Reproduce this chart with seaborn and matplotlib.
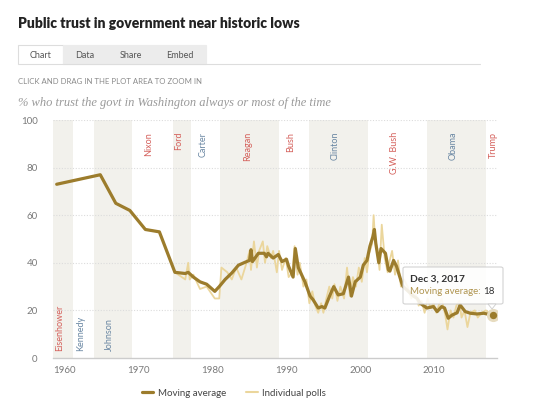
import matplotlib
matplotlib.use("Agg")
import matplotlib.pyplot as plt
import seaborn as sns
import pandas as pd
from matplotlib.patches import FancyBboxPatch, Rectangle, Polygon
from matplotlib.lines import Line2D

# ---------------- data ----------------
ma_year = [1958.9, 1964.8, 1966.9, 1968.8, 1970.9, 1972.8, 1974.9, 1976.3, 1976.7, 1977.4,
           1978.3, 1979.2, 1980.3, 1980.9, 1981.7, 1982.6, 1983.5, 1984.6, 1985.0, 1985.2,
           1985.4, 1986.2, 1987.0, 1987.3, 1987.5, 1988.2, 1988.9, 1989.4, 1990.0, 1990.3,
           1990.9, 1991.2, 1991.6, 1992.5, 1993.2, 1993.6, 1994.3, 1994.8, 1995.2, 1995.9,
           1996.4, 1997.0, 1997.7, 1998.4, 1998.8, 1999.3, 2000.0, 2000.4, 2000.9, 2001.3,
           2001.7, 2001.9, 2002.1, 2002.5, 2002.8, 2003.4, 2003.8, 2004.0, 2004.5, 2004.9,
           2005.6, 2005.8, 2006.5, 2007.2, 2007.7, 2008.1, 2009.0, 2009.9, 2010.4, 2011.0,
           2011.4, 2011.9, 2012.4, 2013.1, 2013.5, 2014.2, 2014.9, 2015.8, 2016.7, 2017.9]
ma_value = [73, 77, 65, 62, 54, 53, 36, 35.5, 36, 34,
            32, 31, 28, 30, 33, 35.7, 39, 40.5, 41, 45.5,
            40.5, 44, 44, 42.5, 44, 42, 43.5, 40.5, 41.5, 38.5,
            34, 46, 38, 32, 26, 24.5, 21, 21.6, 21, 26.5,
            30, 26.5, 27, 34, 26, 32, 34, 39, 41, 47,
            51, 54, 48, 40, 46, 44, 37, 36.5, 41, 38.5,
            31.5, 30, 28, 26, 25, 23, 21, 21.6, 19.5, 21.6,
            21, 16.7, 18, 19, 22.3, 19.5, 18.8, 18.5, 18.8, 18]

poll_year = [1958.9, 1964.8, 1966.9, 1968.8, 1970.9, 1972.8, 1974.9, 1976.3, 1976.7, 1976.9,
             1977.4, 1978.3, 1979.2, 1980.3, 1980.9, 1981.2, 1982.0, 1982.6, 1983.2, 1983.9,
             1984.6, 1985.0, 1985.2, 1985.6, 1986.0, 1986.3, 1986.8, 1987.1, 1987.4, 1987.9,
             1988.2, 1988.7, 1989.0, 1989.4, 1989.9, 1990.3, 1990.8, 1991.1, 1991.5, 1991.8,
             1992.3, 1992.7, 1993.1, 1993.5, 1993.9, 1994.3, 1994.7, 1995.0, 1995.4, 1995.8,
             1996.2, 1996.5, 1996.9, 1997.3, 1997.8, 1998.2, 1998.6, 1999.0, 1999.4, 1999.8,
             2000.2, 2000.6, 2000.9, 2001.2, 2001.6, 2001.8, 2002.0, 2002.3, 2002.6, 2002.9,
             2003.3, 2003.7, 2003.9, 2004.3, 2004.7, 2005.1, 2005.5, 2005.9, 2006.4, 2006.9,
             2007.4, 2007.9, 2008.3, 2008.7, 2009.1, 2009.5, 2009.9, 2010.3, 2010.6, 2011.0,
             2011.5, 2011.8, 2012.2, 2012.6, 2013.0, 2013.4, 2013.7, 2014.1, 2014.5, 2014.9,
             2015.5, 2015.9, 2016.4, 2017.0, 2017.9]
poll_value = [73, 77, 65, 62, 54, 53, 36, 33, 40, 33,
              35, 29, 30, 25, 25, 38, 36, 33, 38, 33,
              40, 45, 37, 49, 38, 45, 49, 40, 47, 42,
              45, 36, 45, 37, 42, 34, 36, 47, 35, 40,
              30, 33, 23, 28, 22, 19, 23, 19, 25, 30,
              25, 31, 24, 30, 25, 38, 26, 34, 30, 38,
              32, 42, 36, 44, 48, 60, 50, 46, 37, 56,
              42, 36, 40, 45, 35, 41, 30, 33, 30, 25,
              28, 22, 24, 19, 25, 21, 23, 19, 22, 25,
              18, 12, 20, 17, 22, 24, 17, 20, 13, 19,
              20, 17, 19, 20, 18]

pres_names = ["Eisenhower", "Kennedy", "Johnson", "Nixon", "Ford", "Carter", "Reagan",
              "Bush", "Clinton", "G.W. Bush", "Obama", "Trump"]
pres_start = [1953.05, 1961.05, 1963.9, 1969.05, 1974.6, 1977.05, 1981.05, 1989.05,
              1993.05, 2001.05, 2009.05, 2017.05]
pres_end = [1961.05, 1963.9, 1969.05, 1974.6, 1977.05, 1981.05, 1989.05, 1993.05,
            2001.05, 2009.05, 2017.05, 2025.0]
pres_party = ["R", "D", "D", "R", "R", "D", "R", "R", "D", "R", "D", "R"]
label_x = [1959.3, 1962.2, 1966.1, 1971.4, 1975.4, 1978.7, 1984.8, 1990.6,
           1996.6, 2004.6, 2012.6, 2018.0]
label_top = [False, False, False, True, True, True, True, True, True, True, True, True]

y_ticks = [0, 20, 40, 60, 80, 100]
x_ticks = [1960, 1970, 1980, 1990, 2000, 2010]

# ---------------- style ----------------
sns.set_theme(style="white")
plt.rcParams["font.family"] = ["Lato", "DejaVu Sans"]

MA_COLOR = "#9c7c2c"
POLL_COLOR = "#ebd69c"
SHADE = "#f2f1ec"
REP = "#d45f5a"
DEM = "#6a87a3"
GREY = "#7a7a7a"

fig = plt.figure(figsize=(5.5, 4.13), dpi=100)
ax = fig.add_axes([53 / 550, 1 - 358 / 413, 444 / 550, 238 / 413])

# shading for alternating presidencies
for i, (s, e) in enumerate(zip(pres_start, pres_end)):
    if i in (0, 2, 4, 6, 8, 10):
        ax.axvspan(s, e, color=SHADE, lw=0, zorder=0)

for yt in y_ticks[1:]:
    ax.axhline(yt, color="#dcdcdc", lw=0.8, ls=(0, (1, 1.5)), zorder=1)

df_poll = pd.DataFrame({"year": poll_year, "value": poll_value})
df_ma = pd.DataFrame({"year": ma_year, "value": ma_value})

sns.lineplot(data=df_poll, x="year", y="value", ax=ax, color=POLL_COLOR, lw=1.3,
             zorder=2, estimator=None, sort=False)
sns.lineplot(data=df_ma, x="year", y="value", ax=ax, color=MA_COLOR, lw=2.3,
             zorder=3, estimator=None, sort=False)

# end point
ax.scatter([ma_year[-1]], [ma_value[-1]], s=90, color="#e7dcc0", zorder=4, lw=0)
ax.scatter([ma_year[-1]], [ma_value[-1]], s=28, color=MA_COLOR, zorder=5, lw=0)

# president labels
for name, x, top, party in zip(pres_names, label_x, label_top, pres_party):
    col = REP if party == "R" else DEM
    if top:
        ax.text(x, 95, name, rotation=90, ha="center", va="top", fontsize=6.5,
                color=col, zorder=6)
    else:
        ax.text(x, 3, name, rotation=90, ha="center", va="bottom", fontsize=6.5,
                color=col, zorder=6)

ax.set_xlim(1958.4, 2018.5)
ax.set_ylim(0, 100)
ax.set_xticks(x_ticks)
ax.set_yticks(y_ticks)
ax.set_xticklabels([str(t) for t in x_ticks])
ax.set_yticklabels([str(t) for t in y_ticks])
ax.tick_params(axis="both", length=0, labelsize=7, colors=GREY)
ax.tick_params(axis="y", pad=11)
ax.tick_params(axis="x", pad=6)
ax.set_xlabel("")
ax.set_ylabel("")
for sp in ["top", "right", "left"]:
    ax.spines[sp].set_visible(False)
ax.spines["bottom"].set_color("#cccccc")
ax.spines["bottom"].set_linewidth(1)
ax.set_facecolor("white")

# ---------------- header ----------------
fig.text(18 / 550, 1 - 24 / 413, "Public trust in government near historic lows",
         fontsize=10, fontweight="heavy", color="#222222", va="center", ha="left")

# tabs
tabs = ["Chart", "Data", "Share", "Embed"]
tab_x = [18, 63, 107, 154, 206]
for i, t in enumerate(tabs):
    x0, x1 = tab_x[i], tab_x[i + 1]
    fc = "white" if i == 0 else "#ececec"
    ec = "#dddddd" if i == 0 else "#ececec"
    fig.patches.append(Rectangle((x0 / 550, 1 - 64 / 413), (x1 - x0) / 550, 19 / 413,
                                 transform=fig.transFigure, fc=fc, ec=ec, lw=0.8))
    fig.text((x0 + x1) / 2 / 550, 1 - 55 / 413, t, fontsize=6.5, color="#555555",
             ha="center", va="center")
fig.lines.append(Line2D([63 / 550, 480 / 550], [1 - 64 / 413, 1 - 64 / 413],
                        transform=fig.transFigure, color="#dddddd", lw=0.8))

fig.text(18 / 550, 1 - 82 / 413, "CLICK AND DRAG IN THE PLOT AREA TO ZOOM IN",
         fontsize=5.6, color="#8a8a8a", va="center", ha="left")
fig.text(18 / 550, 1 - 103 / 413,
         "% who trust the govt in Washington always or most of the time",
         fontsize=9, color="#9a9a9a", style="italic", family="Liberation Serif",
         va="center", ha="left")

# ---------------- tooltip ----------------
box = FancyBboxPatch((403 / 550, 1 - 304 / 413), 100 / 550, 37 / 413,
                     boxstyle="round,pad=0,rounding_size=0.004",
                     transform=fig.transFigure, fc="white", ec="#cccccc", lw=0.8,
                     alpha=0.88, zorder=10)
fig.patches.append(box)
fig.patches.append(Polygon([[488 / 550, 1 - 304 / 413], [496 / 550, 1 - 304 / 413],
                            [492 / 550, 1 - 309 / 413]], closed=True,
                           transform=fig.transFigure, fc="white", ec="#cccccc",
                           lw=0.6, zorder=10))
fig.text(410 / 550, 1 - 279 / 413, "Dec 3, 2017", fontsize=7.3, fontweight="bold",
         color="#333333", va="center", ha="left", zorder=11)
fig.text(410 / 550, 1 - 292 / 413, "Moving average: ", fontsize=7,
         color="#b09550", va="center", ha="left", zorder=11)
fig.text(483 / 550, 1 - 292 / 413, "18", fontsize=7, color="#333333",
         va="center", ha="left", zorder=11)

# ---------------- legend ----------------
handles = [Line2D([], [], color=MA_COLOR, lw=2.3),
           Line2D([], [], color=POLL_COLOR, lw=1.5)]
fig.legend(handles, ["Moving average", "Individual polls"], loc="center",
           bbox_to_anchor=(234 / 550, 1 - 393 / 413), ncol=2, frameon=False,
           fontsize=7, handlelength=1.2, columnspacing=2.0, handletextpad=0.5,
           labelcolor="#444444")

fig.savefig("out.png", dpi=100, facecolor="white")
